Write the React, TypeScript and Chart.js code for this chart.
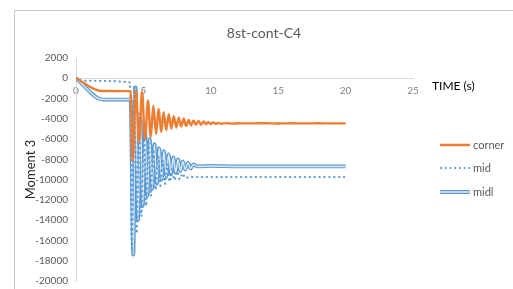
import React, { useEffect, useRef } from "react";
import { Chart, registerables } from "chart.js";

Chart.register(...registerables);

const chartTitle = "8st-cont-C4";
const xTitle = "TIME (s)";
const yTitle = "Moment 3";
const seriesNames = ["corner", "mid", "midl"];

const cornerT = [0, 1.9, 4.05, 4.2, 4.45, 4.68, 4.9, 5.12, 5.34, 5.54, 5.74, 5.94, 6.13, 6.32, 6.5, 6.69, 6.88, 7.07, 7.25, 7.44, 7.62, 7.8, 7.99, 8.17, 8.36, 8.54, 8.72, 8.9, 9.09, 9.27, 9.46, 9.64, 9.82, 10.0, 10.19, 10.37, 10.55, 10.8, 11.2, 11.6, 12, 13, 14, 15, 16, 17, 18, 19, 20];
const cornerV = [0, -1250, -1270, -8200, -1200, -6300, -1300, -6000, -2200, -5800, -2700, -5500, -3000, -5300, -3350, -5100, -3550, -4950, -3750, -4850, -3900, -4750, -4000, -4700, -4100, -4650, -4150, -4600, -4200, -4580, -4250, -4550, -4300, -4530, -4350, -4500, -4400, -4480, -4420, -4470, -4440, -4450, -4430, -4460, -4440, -4450, -4440, -4450, -4450];

const midT = [0, 0.6, 4.0, 4.15, 4.32, 4.5, 4.68, 4.85, 5.03, 5.2, 5.38, 5.55, 5.73, 5.9, 6.08, 6.25, 6.43, 6.6, 6.78, 6.95, 7.13, 7.3, 7.5, 7.7, 7.9, 8.1, 8.4, 9, 10, 12, 14, 16, 18, 20];
const midV = [0, -250, -400, -16800, -700, -15300, -3500, -13600, -5000, -12600, -6200, -11600, -7000, -11000, -7600, -10600, -8100, -10400, -8500, -10200, -8900, -10050, -9200, -9950, -9400, -9850, -9750, -9750, -9750, -9750, -9750, -9750, -9750, -9750];

const midlT = [0, 2.0, 4.05, 4.25, 4.42, 4.6, 4.78, 4.95, 5.12, 5.3, 5.47, 5.65, 5.82, 6.0, 6.17, 6.35, 6.52, 6.7, 6.87, 7.05, 7.22, 7.4, 7.57, 7.75, 7.92, 8.1, 8.3, 8.5, 8.7, 9, 10, 12, 15, 20];
const midlV = [0, -2100, -2100, -17400, -900, -14000, -3900, -12600, -5200, -11600, -6000, -10900, -6500, -10400, -6900, -10000, -7200, -9700, -7500, -9500, -7800, -9300, -8000, -9150, -8200, -9000, -8350, -8900, -8500, -8700, -8650, -8700, -8700, -8700];

const xMin = 0, xMax = 25, xStep = 5;
const yMin = -20000, yMax = 2000, yStep = 2000;

const ORANGE = "#ED7D31";
const BLUE = "#5B9BD5";
const BLUE_INNER = "#dde9f6";

const pts = (t: number[], v: number[]) => t.map((x, i) => ({ x, y: v[i] }));

const overlayPlugin = {
  id: "overlayText",
  afterDraw(chart: any) {
    const { ctx, chartArea, scales, width } = chart;
    const y0 = scales.y.getPixelForValue(0);
    ctx.save();
    ctx.font = "14px Lato";
    ctx.fillStyle = "#595959";
    ctx.textAlign = "center";
    ctx.textBaseline = "middle";
    ctx.fillText(chartTitle, width / 2, 22);

    ctx.font = "12px Lato";
    ctx.fillStyle = "#000";
    ctx.textAlign = "left";
    ctx.fillText(xTitle, chartArea.right + 19, y0 + 8);

    const lx0 = chartArea.right + 27;
    const lx1 = chartArea.right + 57;
    const ys = [chartArea.top + 87, chartArea.top + 110, chartArea.top + 134];
    ctx.lineCap = "butt";
    ctx.strokeStyle = ORANGE;
    ctx.lineWidth = 2.5;
    ctx.beginPath(); ctx.moveTo(lx0, ys[0]); ctx.lineTo(lx1, ys[0]); ctx.stroke();
    ctx.strokeStyle = BLUE;
    ctx.lineCap = "round";
    ctx.lineWidth = 2.2;
    ctx.setLineDash([0.1, 4.6]);
    ctx.beginPath(); ctx.moveTo(lx0 + 1, ys[1]); ctx.lineTo(lx1, ys[1]); ctx.stroke();
    ctx.setLineDash([]);
    ctx.lineCap = "butt";
    ctx.lineWidth = 4;
    ctx.strokeStyle = BLUE;
    ctx.beginPath(); ctx.moveTo(lx0, ys[2]); ctx.lineTo(lx1, ys[2]); ctx.stroke();
    ctx.lineWidth = 1.6;
    ctx.strokeStyle = BLUE_INNER;
    ctx.beginPath(); ctx.moveTo(lx0, ys[2]); ctx.lineTo(lx1, ys[2]); ctx.stroke();

    ctx.font = "11px Lato";
    ctx.fillStyle = "#595959";
    seriesNames.forEach((n, i) => ctx.fillText(n, lx1 + 3, ys[i]));
    ctx.restore();
  },
};

export default function App() {
  const ref = useRef<HTMLCanvasElement | null>(null);
  useEffect(() => {
    if (!ref.current) return;
    const chart = new Chart(ref.current, {
      type: "line",
      data: {
        datasets: [
          {
            label: seriesNames[0],
            data: pts(cornerT, cornerV),
            borderColor: ORANGE,
            borderWidth: 2.4,
            pointRadius: 0,
            cubicInterpolationMode: "monotone",
            order: 0,
          },
          {
            label: seriesNames[1],
            data: pts(midT, midV),
            borderColor: BLUE,
            borderWidth: 2.3,
            borderDash: [0.1, 4.8],
            borderCapStyle: "round",
            pointRadius: 0,
            cubicInterpolationMode: "monotone",
            order: 1,
          },
          {
            label: seriesNames[2] + "-inner",
            data: pts(midlT, midlV),
            borderColor: BLUE_INNER,
            borderWidth: 1.4,
            pointRadius: 0,
            cubicInterpolationMode: "monotone",
            order: 2,
          },
          {
            label: seriesNames[2],
            data: pts(midlT, midlV),
            borderColor: BLUE,
            borderWidth: 3.8,
            pointRadius: 0,
            cubicInterpolationMode: "monotone",
            order: 3,
          },
        ],
      },
      options: {
        animation: false,
        responsive: false,
        maintainAspectRatio: false,
        layout: { padding: { left: 0, right: 100, bottom: 4, top: 47 } },
        plugins: {
          legend: { display: false },
          tooltip: { enabled: false },
          title: { display: false },
        },
        scales: {
          x: {
            type: "linear",
            min: xMin,
            max: xMax,
            position: { y: 0 },
            grid: { display: false, drawTicks: false },
            border: { display: true, color: "#d9d9d9", width: 1 },
            ticks: {
              stepSize: xStep,
              padding: 7,
              color: "#808080",
              font: { family: "Lato", size: 10 },
              maxRotation: 0,
              callback: (v: any) => String(v),
            },
          },
          y: {
            type: "linear",
            min: yMin,
            max: yMax,
            position: "left",
            afterFit: (s: any) => { s.width = 61; },
            grid: { display: false, drawTicks: false },
            border: { display: true, color: "#d9d9d9", width: 1 },
            ticks: {
              stepSize: yStep,
              padding: 8,
              color: "#595959",
              font: { family: "Lato", size: 10 },
              callback: (v: any) => String(v),
            },
            title: {
              display: true,
              text: yTitle,
              color: "#262626",
              font: { family: "Lato", size: 13 },
              padding: { top: 8, bottom: 0 },
            },
          },
        },
      },
      plugins: [overlayPlugin],
    });
    return () => chart.destroy();
  }, []);

  return (
    <div
      style={{
        position: "absolute",
        left: 14,
        top: 10,
        width: 520,
        height: 300,
        borderLeft: "1px solid #c8c8c8",
        borderTop: "1px solid #c8c8c8",
        background: "#fff",
      }}
    >
      <canvas ref={ref} width={498} height={284} style={{ display: "block", width: 498, height: 284 }} />
    </div>
  );
}
